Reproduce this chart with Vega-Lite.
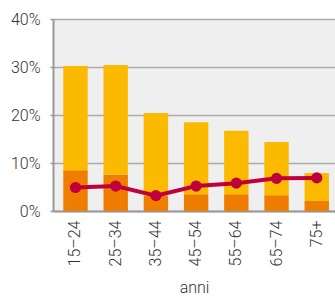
{
  "$schema": "https://vega.github.io/schema/vega-lite/v6.json",
  "width": 282,
  "height": 192,
  "autosize": "none",
  "padding": {"left": 53, "top": 19, "right": 0, "bottom": 85},
  "config": {
    "view": {"fill": "#efefef", "stroke": null},
    "font": "Roboto"
  },
  "datasets": {
    "barre": [
      {"eta": "15–24", "serie": "base", "valore": 8.5},
      {"eta": "15–24", "serie": "resto", "valore": 21.7},
      {"eta": "25–34", "serie": "base", "valore": 7.6},
      {"eta": "25–34", "serie": "resto", "valore": 22.8},
      {"eta": "35–44", "serie": "base", "valore": 3.2},
      {"eta": "35–44", "serie": "resto", "valore": 17.2},
      {"eta": "45–54", "serie": "base", "valore": 3.5},
      {"eta": "45–54", "serie": "resto", "valore": 15.0},
      {"eta": "55–64", "serie": "base", "valore": 3.5},
      {"eta": "55–64", "serie": "resto", "valore": 13.2},
      {"eta": "65–74", "serie": "base", "valore": 3.3},
      {"eta": "65–74", "serie": "resto", "valore": 11.1},
      {"eta": "75+", "serie": "base", "valore": 2.1},
      {"eta": "75+", "serie": "resto", "valore": 5.8}
    ],
    "linea": [
      {"eta": "15–24", "valore": 4.9},
      {"eta": "25–34", "valore": 5.2},
      {"eta": "35–44", "valore": 3.2},
      {"eta": "45–54", "valore": 5.2},
      {"eta": "55–64", "valore": 5.8},
      {"eta": "65–74", "valore": 6.8},
      {"eta": "75+", "valore": 6.9}
    ]
  },
  "layer": [
    {
      "data": {"name": "barre"},
      "mark": {"type": "bar"},
      "encoding": {
        "x": {
          "field": "eta", "type": "nominal", "sort": null,
          "scale": {"paddingInner": 0.393, "paddingOuter": 0.203, "align": 0.63},
          "axis": {
            "title": "anni", "titleFontSize": 16, "titleFontWeight": 300, "titleColor": "#333",
            "titlePadding": 14,
            "labelAngle": -90, "labelAlign": "right", "labelBaseline": "middle",
            "labelFontSize": 16, "labelFontWeight": 300, "labelColor": "#333", "labelPadding": 9,
            "ticks": false, "domainColor": "#999", "domainWidth": 2
          }
        },
        "y": {
          "field": "valore", "type": "quantitative", "stack": "zero",
          "scale": {"domain": [0, 40]},
          "axis": {
            "title": null, "values": [0, 10, 20, 30, 40],
            "labelExpr": "datum.value + '%'",
            "labelFontSize": 16, "labelFontWeight": 300, "labelColor": "#333", "labelPadding": 10,
            "ticks": true, "tickSize": 3, "tickColor": "#999", "tickWidth": 1.5,
            "grid": true, "gridColor": "#aaa", "gridWidth": 1.5,
            "domainColor": "#999", "domainWidth": 2
          }
        },
        "color": {
          "field": "serie", "type": "nominal",
          "scale": {"domain": ["base", "resto"], "range": ["#EF7D00", "#FBBA00"]},
          "legend": null
        },
        "order": {"field": "serie", "sort": "ascending"}
      }
    },
    {
      "data": {"name": "linea"},
      "mark": {
        "type": "line", "color": "#C0003C", "strokeWidth": 4,
        "point": {"filled": true, "size": 125, "color": "#C0003C", "opacity": 1}
      },
      "encoding": {
        "x": {"field": "eta", "type": "nominal", "sort": null},
        "y": {"field": "valore", "type": "quantitative"}
      }
    }
  ]
}
